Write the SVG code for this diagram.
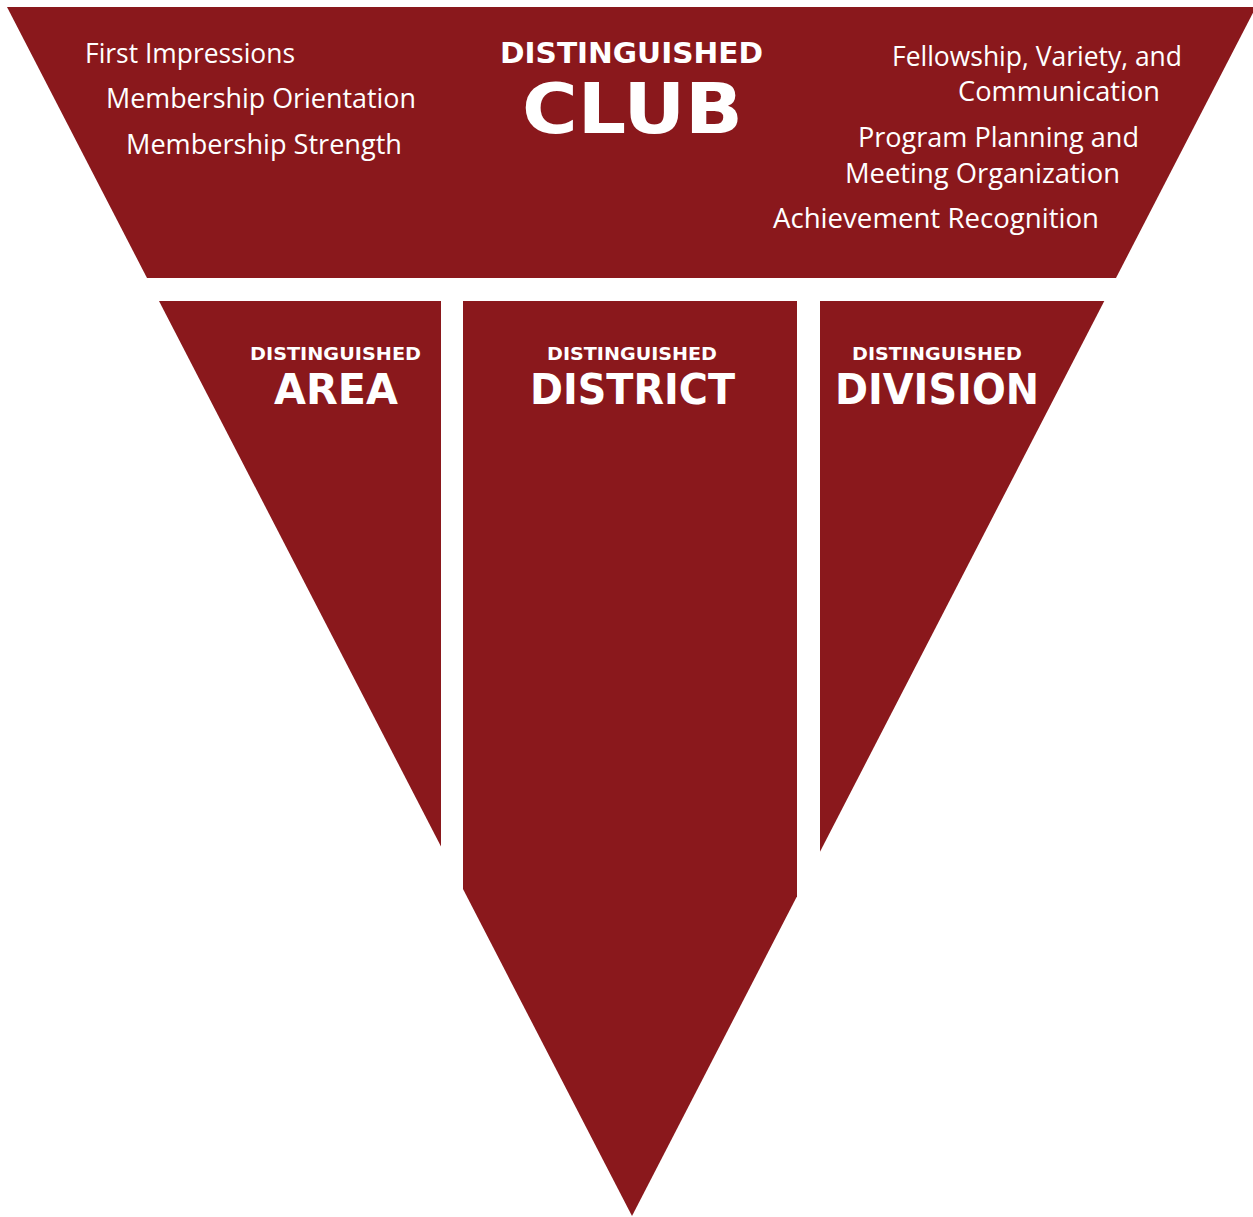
<svg xmlns="http://www.w3.org/2000/svg" width="1253" height="1217" viewBox="0 0 1253 1217">
<style>
.shape{fill:#8a181c}
.item{font-family:"Open Sans","Liberation Sans",sans-serif;font-size:27px;fill:#ffffff}
.h{font-family:"DejaVu Sans","Liberation Sans",sans-serif;font-weight:bold;fill:#ffffff}
.sm{font-size:18px}
.big{font-size:42px}
.club1{font-size:28px}
.club2{font-size:70px}
</style>
<rect width="1253" height="1217" fill="#ffffff"/>
<g id="club">
<polygon class="shape" points="7,7 1256,7 1116,278 147,278"/>
<text class="h club1" x="500" y="63" textLength="263" lengthAdjust="spacingAndGlyphs">DISTINGUISHED</text>
<text class="h club2" x="522" y="133" textLength="221" lengthAdjust="spacingAndGlyphs">CLUB</text>
<text class="item" x="85" y="63" textLength="210" lengthAdjust="spacingAndGlyphs">First Impressions</text>
<text class="item" x="106" y="108" textLength="310" lengthAdjust="spacingAndGlyphs">Membership Orientation</text>
<text class="item" x="126" y="154" textLength="276" lengthAdjust="spacingAndGlyphs">Membership Strength</text>
<text class="item" x="892" y="66" textLength="290" lengthAdjust="spacingAndGlyphs">Fellowship, Variety, and</text>
<text class="item" x="958" y="101" textLength="202" lengthAdjust="spacingAndGlyphs">Communication</text>
<text class="item" x="858" y="147" textLength="281" lengthAdjust="spacingAndGlyphs">Program Planning and</text>
<text class="item" x="845" y="183" textLength="275" lengthAdjust="spacingAndGlyphs">Meeting Organization</text>
<text class="item" x="773" y="228" textLength="326" lengthAdjust="spacingAndGlyphs">Achievement Recognition</text>
</g>
<g id="area">
<polygon class="shape" points="159,301 441,301 441,846.5"/>
<text class="h sm" x="250" y="360" textLength="171" lengthAdjust="spacingAndGlyphs">DISTINGUISHED</text>
<text class="h big" x="274" y="404" textLength="124" lengthAdjust="spacingAndGlyphs">AREA</text>
</g>
<g id="district">
<polygon class="shape" points="463,301 797,301 797,896.3 632,1216 463,889.1"/>
<text class="h sm" x="547" y="360" textLength="170" lengthAdjust="spacingAndGlyphs">DISTINGUISHED</text>
<text class="h big" x="530" y="404" textLength="205" lengthAdjust="spacingAndGlyphs">DISTRICT</text>
</g>
<g id="division">
<polygon class="shape" points="820,301 1104.3,301 820,851.7"/>
<text class="h sm" x="852" y="360" textLength="170" lengthAdjust="spacingAndGlyphs">DISTINGUISHED</text>
<text class="h big" x="835" y="404" textLength="204" lengthAdjust="spacingAndGlyphs">DIVISION</text>
</g>
<g id="connectors"/>
</svg>
